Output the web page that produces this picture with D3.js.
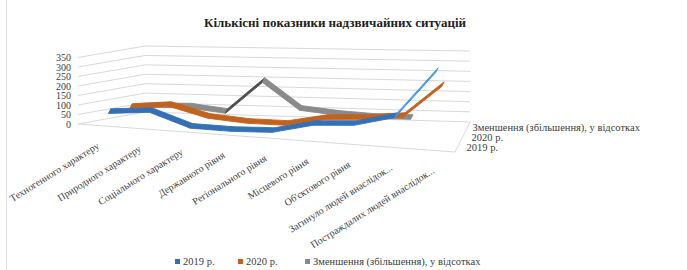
<!DOCTYPE html>
<html>
<head>
<meta charset="utf-8">
<script src="https://cdn.jsdelivr.net/npm/d3@7"></script>
<style>
  body { margin: 0; background: #fff; }
  text { font-family: "Liberation Serif", "DejaVu Serif", serif; fill: #404040; }
</style>
</head>
<body>
<div id="chart"></div>
<script>
(function(d3) {
  "use strict";

  // data
  var categories = ["Техногенного характеру", "Природного характеру", "Соціального характеру",
    "Державного рівня", "Регіонального рівня", "Місцевого рівня", "Об'єктового рівня",
    "Загинуло людей внаслідок...", "Постраждалих людей внаслідок..."];
  var seriesNames = ["2019  р.", "2020 р.", "Зменшення (збільшення), у відсотках"];
  var depthLabels = ["2019  р.", "2020 р.", "Зменшення (збільшення), у відсотках"];
  var v2019 = [64, 82, 15, 13, 21, 66, 77, 122, 327];
  var v2020 = [68, 88, 37, 22, 22, 60, 69, 87, 236];
  var vChange = [50, 55, 34, 198, 63, 45, 36, 38, null];
  var yTicks = [0, 50, 100, 150, 200, 250, 300, 350];
  var colors = ["#3471b4", "#c2621e", "#8a8a8a"];
  var riseShade = [0.8, 0, -1.6]; // steep rising faces: lighter blue, darker gray

  var values = [v2019, v2020, vChange];

  var width = 687, height = 270;

  // pseudo 3d box: floor corners (front/back, left/right) and wall heights for 350
  var Box = {
    FL: [78, 124], FR: [455, 152],
    BL: [145, 112], BR: [470, 122],
    hFL: 66.5, hFR: 84, hBL: 66, hBR: 71
  };
  var ribbon = [2.3, -4.6]; // screen thickness of a ribbon

  var uScale = d3.scalePoint().domain(categories).range([0, 1]).padding(0.5);
  var wScale = d3.scalePoint().domain(seriesNames).range([0, 1]).padding(0.5);
  var tScale = d3.scaleLinear().domain([0, 350]).range([0, 1]);

  function lerp(a, b, t) { return a + (b - a) * t; }
  function project(u, w, t) {
    var fx = lerp(Box.FL[0], Box.FR[0], u), fy = lerp(Box.FL[1], Box.FR[1], u);
    var bx = lerp(Box.BL[0], Box.BR[0], u), by = lerp(Box.BL[1], Box.BR[1], u);
    var h = lerp(lerp(Box.hFL, Box.hFR, u), lerp(Box.hBL, Box.hBR, u), w);
    return [lerp(fx, bx, w), lerp(fy, by, w) - t * h];
  }
  function shift(p, k) { return [p[0] + ribbon[0] * k, p[1] + ribbon[1] * k]; }

  var svg = d3.select("#chart").append("svg")
    .attr("width", width)
    .attr("height", height);

  svg.append("rect").attr("width", width).attr("height", height).attr("fill", "#fff");
  svg.append("line").attr("x1", 6.5).attr("x2", 6.5).attr("y1", 0).attr("y2", height)
    .attr("stroke", "#e3e3e3");

  svg.append("text")
    .attr("x", 335).attr("y", 27)
    .attr("text-anchor", "middle")
    .style("font-size", "13px").style("font-weight", "bold").style("fill", "#222")
    .text("Кількісні показники надзвичайних ситуацій");

  // walls gridlines
  var line = d3.line();
  var grid = svg.append("g").attr("class", "grid");
  grid.selectAll("path")
    .data(yTicks)
    .enter().append("path")
    .attr("d", d => line([project(0, 0, tScale(d)), project(0, 1, tScale(d)), project(1, 1, tScale(d))]))
    .attr("fill", "none")
    .attr("stroke", "#d9d9d9")
    .attr("stroke-width", 1);

  // floor outline
  grid.append("path")
    .attr("d", line([project(0, 0, 0), project(1, 0, 0), project(1, 1, 0)]))
    .attr("fill", "none")
    .attr("stroke", "#d9d9d9");

  // y labels
  svg.append("g").selectAll("text")
    .data(yTicks)
    .enter().append("text")
    .attr("x", Box.FL[0] - 7)
    .attr("y", d => project(0, 0, tScale(d))[1] + 3.5)
    .attr("text-anchor", "end")
    .style("font-size", "10px")
    .text(d => d);

  // category labels
  svg.append("g").selectAll("text")
    .data(categories)
    .enter().append("text")
    .attr("transform", d => {
      var p = project(uScale(d), 0, 0);
      return `translate(${p[0] + 1}, ${p[1] + 22}) rotate(-32)`;
    })
    .attr("text-anchor", "end")
    .style("font-size", "10px")
    .text(d => d);

  // depth labels
  svg.append("g").selectAll("text")
    .data(depthLabels)
    .enter().append("text")
    .attr("x", (d, i) => project(1, wScale(seriesNames[i]), 0)[0] + (i == 2 ? 5 : 9))
    .attr("y", (d, i) => project(1, wScale(seriesNames[i]), 0)[1] + 4)
    .style("font-size", "10.5px")
    .text(d => d);

  // ribbons, back series first
  var ribbons = svg.append("g");
  [2, 1, 0].forEach(function(s) {
    var w = wScale(seriesNames[s]);
    var vals = values[s];
    var segs = d3.range(vals.length - 1).filter(i => vals[i] != null && vals[i + 1] != null);
    var pt = i => project(uScale(categories[i]), w, tScale(vals[i]));
    ribbons.append("g").selectAll("path")
      .data(segs)
      .enter().append("path")
      .attr("d", i => {
        var a = pt(i), b = pt(i + 1);
        return line([shift(a, -0.5), shift(b, -0.5), shift(b, 0.5), shift(a, 0.5)]) + "Z";
      })
      .attr("fill", i => {
        var a = pt(i), b = pt(i + 1);
        var steep = (a[1] - b[1]) > 0.6 * (b[0] - a[0]);
        if (!steep || !riseShade[s]) return colors[s];
        var c = d3.color(colors[s]);
        return riseShade[s] > 0 ? c.brighter(riseShade[s]) : c.darker(-riseShade[s]);
      })
      .attr("stroke", function() { return d3.select(this).attr("fill"); })
      .attr("stroke-width", 0.9)
      .attr("stroke-linejoin", "round");
  });

  // legend
  var legendX = [175, 238, 305];
  var legend = svg.append("g").attr("transform", "translate(0, 262)");
  legend.selectAll("rect")
    .data(seriesNames)
    .enter().append("rect")
    .attr("x", (d, i) => legendX[i])
    .attr("y", -3)
    .attr("width", 5).attr("height", 5)
    .attr("fill", (d, i) => colors[i]);
  legend.selectAll("text")
    .data(seriesNames)
    .enter().append("text")
    .attr("x", (d, i) => legendX[i] + 8)
    .attr("y", 3)
    .style("font-size", "10.5px")
    .text(d => d);

})(d3);
</script>
</body>
</html>
